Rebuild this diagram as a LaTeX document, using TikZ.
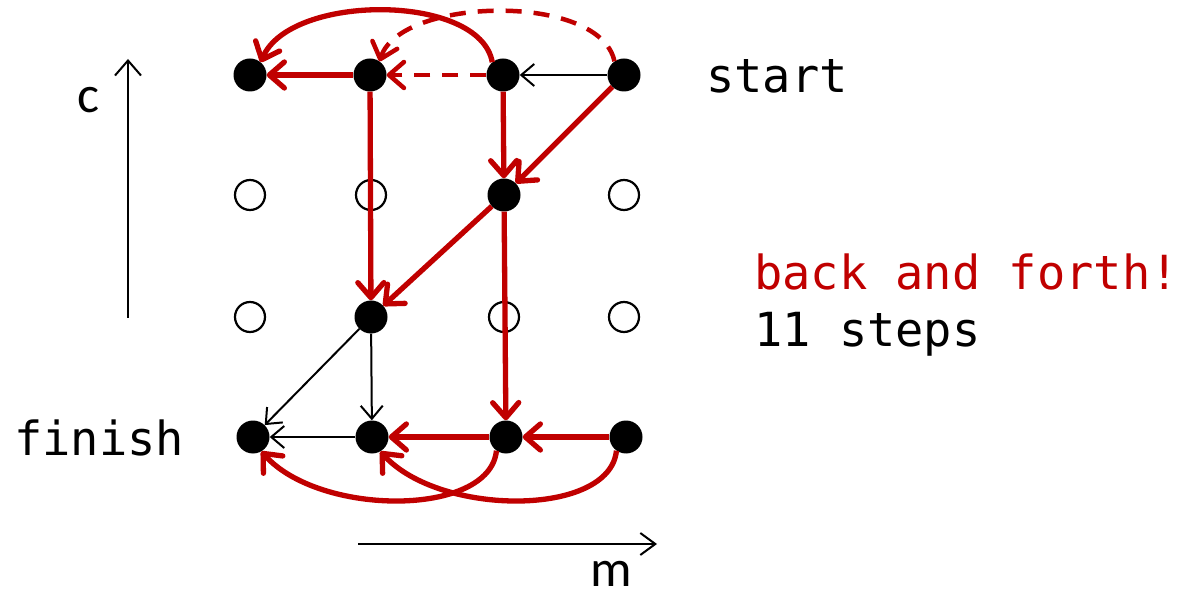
\documentclass[tikz,border=0pt]{standalone}
\usepackage{fontspec}
\setmonofont{DejaVu Sans Mono}
\newfontfamily\axisfont{Carlito}
\usetikzlibrary{arrows.meta}
\definecolor{dred}{HTML}{C00000}
\begin{document}
\begin{tikzpicture}[x=1pt,y=1pt,
 full/.style={circle,fill=black,minimum size=33pt,inner sep=0pt},
 empty/.style={circle,draw=black,line width=2.2pt,minimum size=30pt,inner sep=0pt},
 redarr/.style={draw=dred,line width=5.3pt,-{Straight Barb[length=15pt,width=26pt,round]}},
 blkarr/.style={draw=black,line width=2pt,-{Straight Barb[length=13pt,width=22pt]}},
 dsh/.style={line width=4.5pt,dash pattern=on 16pt off 12pt},
 lbl/.style={font=\fontsize{47}{50}\selectfont\ttfamily,inner sep=0pt,anchor=base west},
 axlbl/.style={font=\fontsize{52}{54}\selectfont\axisfont,inner sep=0pt},
]
\useasboundingbox (0,0) rectangle (1185,600);
% nodes
\node[full] (n00) at (250,525) {};
\node[full] (n10) at (370,525) {};
\node[full] (n20) at (503,525) {};
\node[full] (n30) at (624,525) {};
\node[empty] (n01) at (250,405) {};
\node[empty] (n11) at (371,405) {};
\node[full]  (n21) at (504,405) {};
\node[empty] (n31) at (624,405) {};
\node[empty] (n02) at (250,283) {};
\node[full]  (n12) at (371,283) {};
\node[empty] (n22) at (504,283) {};
\node[empty] (n32) at (624,283) {};
\node[full] (n03) at (253,163) {};
\node[full] (n13) at (372,163) {};
\node[full] (n23) at (506,163) {};
\node[full] (n33) at (626,163) {};
% black edges
\draw[blkarr] (n30) -- (n20);
\draw[blkarr] (n12) -- (n03);
\draw[blkarr] (n12) -- (n13);
\draw[blkarr] (n13) -- (n03);
% red dashed
\draw[redarr,dsh] (n20) -- (n10);
\draw[redarr,dsh] (n30.125) .. controls (600,608) and (400,603) .. (n10.55);
% red solid
\draw[redarr] (n10) -- (n00);
\draw[redarr] (n20.130) .. controls (480,607) and (290,607) .. (n00.50);
\draw[redarr] (n10) -- (n12);
\draw[redarr] (n20) -- (n21);
\draw[redarr] (n30) -- (n21);
\draw[redarr] (n21) -- (n12);
\draw[redarr] (n21) -- (n23);
\draw[redarr] (n33) -- (n23);
\draw[redarr] (n23) -- (n13);
\draw[redarr] (n23.235) .. controls (490,83) and (320,83) .. (n03.300);
\draw[redarr] (n33.235) .. controls (610,83) and (440,83) .. (n13.300);
% axes
\coordinate (cA) at (128,282);
\coordinate (cB) at (128,541);
\draw[blkarr,-{Straight Barb[length=15pt,width=26pt]}] (cA) -- (cB);
\node[axlbl] (clbl) at (88,500) {c};
\coordinate (mA) at (358,56);
\coordinate (mB) at (657,56);
\draw[blkarr,-{Straight Barb[length=15pt,width=22pt]}] (mA) -- (mB);
\node[axlbl] (mlbl) at (611,26) {m};
% texts
\node[lbl] (start) at (706,507) {start};
\node[lbl] (finish) at (14,145) {finish};
\node[lbl,text=dred] (baf) at (754,310) {back and forth!};
\node[lbl] (steps) at (754,253) {11 steps};
\end{tikzpicture}
\end{document}
